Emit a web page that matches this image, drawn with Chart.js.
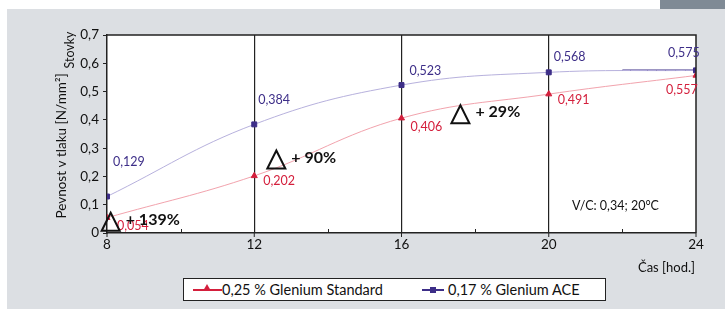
<!DOCTYPE html>
<html>
<head>
<meta charset="utf-8">
<script src="https://cdn.jsdelivr.net/npm/chart.js@4.4.1/dist/chart.umd.min.js"></script>
<style>
    html, body { margin: 0; padding: 0; background: #ffffff; }
    body { width: 725px; height: 309px; position: relative; overflow: hidden; font-family: Lato, sans-serif; }
    #panel { position: absolute; left: 7px; top: 9px; width: 718px; height: 300px; background: #dcdfe3; }
    #corner { position: absolute; left: 660px; top: 0; width: 65px; height: 9px; background: #7f8a95; }
    #wrap { position: absolute; left: 0; top: 0; width: 725px; height: 309px; }
    #legend { position: absolute; left: 183px; top: 278px; width: 421px; height: 21px; background: #fff; border: 1px solid #222; font-size: 14.5px; color: #111; }
    .item { position: absolute; top: 0; line-height: 21px; white-space: nowrap; }
    .sym { position: absolute; top: 10px; width: 29px; height: 1.5px; }
    .mk { position: absolute; }
</style>
</head>
<body>
<div id="panel"></div>
<div id="corner"></div>
<div id="wrap"><canvas id="chart"></canvas></div>
<div id="legend">
    <div class="item" style="left:9px;">
        <div class="sym" style="background:#d41f3c;"></div>
        <div class="mk" style="left:10px;top:5px;width:0;height:0;border-left:4px solid transparent;border-right:4px solid transparent;border-bottom:7px solid #d41f3c;"></div>
        <span style="margin-left:29px;">0,25 % Glenium Standard</span>
    </div>
    <div class="item" style="left:238px;">
        <div class="sym" style="background:#3d2e88;width:22px;"></div>
        <div class="mk" style="left:8px;top:8px;width:6px;height:6px;background:#3d2e88;"></div>
        <span style="margin-left:26px;">0,17 % Glenium ACE</span>
    </div>
</div>
<script>
// ---- data ----
const hours = [8, 12, 16, 20, 24];
const standardValues = [0.054, 0.202, 0.406, 0.491, 0.557];
const aceValues = [0.129, 0.384, 0.523, 0.568, 0.575];
const aceTailHours = [22, 24];
const aceTailValues = [0.575, 0.575];
const yTicks = [0, 0.1, 0.2, 0.3, 0.4, 0.5, 0.6, 0.7];
const xTicks = [8, 12, 16, 20, 24];
const gainLabels = ['+ 139%', '+ 90%', '+ 29%'];

// label offsets (px) relative to each point
const redLabelOffsets = [[10, 8], [9, 5], [9, 9], [9, 6], [-30, 15]];
const blueLabelOffsets = [[6, -35], [4, -24], [8, -14], [5, -15], [-28, -17]];
// gain markers placed in data coordinates
const gainSpots = [[8.1, 0.04], [12.6, 0.26], [17.6, 0.42]];

const RED = '#d41f3c';
const BLUE = '#3d2e88';
const FONT = 'Lato, sans-serif';

const toPts = (xs, ys) => xs.map((x, i) => ({ x, y: ys[i] }));

const extras = {
    id: 'extras',
    beforeDraw(chart) {
        const { ctx, chartArea: a } = chart;
        ctx.save();
        ctx.fillStyle = '#ffffff';
        ctx.fillRect(a.left, a.top, a.right - a.left, a.bottom - a.top);
        ctx.restore();
    },
    afterDatasetsDraw(chart) {
        const { ctx, chartArea: a, scales } = chart;
        const xs = scales.x, ys = scales.y;
        ctx.save();
        // frame top + right
        ctx.strokeStyle = '#222';
        ctx.lineWidth = 1.5;
        ctx.beginPath();
        ctx.moveTo(a.left, a.top);
        ctx.lineTo(a.right, a.top);
        ctx.lineTo(a.right, a.bottom);
        ctx.stroke();
        // minor ticks inside, major ticks just below the axis
        ctx.lineWidth = 1;
        [10, 14, 18, 22].forEach(h => {
            const px = Math.round(xs.getPixelForValue(h)) + 0.5;
            ctx.beginPath();
            ctx.moveTo(px, a.bottom);
            ctx.lineTo(px, a.bottom - 4);
            ctx.stroke();
        });
        xTicks.forEach(h => {
            const px = xs.getPixelForValue(h);
            ctx.beginPath();
            ctx.moveTo(px, a.bottom);
            ctx.lineTo(px, a.bottom + 4);
            ctx.stroke();
        });

        // value labels
        ctx.font = '12.5px ' + FONT;
        ctx.textBaseline = 'middle';
        ctx.textAlign = 'left';
        const fmt = v => v.toFixed(3).replace('.', ',');
        const redMeta = chart.getDatasetMeta(0);
        const blueMeta = chart.getDatasetMeta(1);
        ctx.fillStyle = RED;
        redMeta.data.forEach((p, i) => {
            ctx.fillText(fmt(standardValues[i]), p.x + redLabelOffsets[i][0], p.y + redLabelOffsets[i][1]);
        });
        ctx.fillStyle = BLUE;
        blueMeta.data.forEach((p, i) => {
            ctx.fillText(fmt(aceValues[i]), p.x + blueLabelOffsets[i][0], p.y + blueLabelOffsets[i][1]);
        });

        // gain markers
        ctx.fillStyle = '#111';
        ctx.strokeStyle = '#111';
        ctx.lineWidth = 2;
        ctx.font = 'bold 16px ' + FONT;
        gainSpots.forEach((s, i) => {
            const cx = xs.getPixelForValue(s[0]);
            const cy = ys.getPixelForValue(s[1]);
            ctx.beginPath();
            ctx.moveTo(cx, cy - 9);
            ctx.lineTo(cx + 9, cy + 9);
            ctx.lineTo(cx - 9, cy + 9);
            ctx.closePath();
            ctx.stroke();
            ctx.fillText(gainLabels[i], cx + 15, cy - 2);
        });

        // notes
        ctx.font = '12.5px ' + FONT;
        ctx.fillStyle = '#111';
        ctx.fillText('V/C: 0,34; 20°C', 572, 206);
        ctx.textAlign = 'right';
        ctx.font = '13px ' + FONT;
        ctx.fillText('Čas [hod.]', 695, 268);

        // y titles
        ctx.textAlign = 'center';
        ctx.save();
        ctx.translate(62, 146);
        ctx.rotate(-Math.PI / 2);
        ctx.font = '13.5px ' + FONT;
        ctx.fillText('Pevnost v tlaku [N/mm²]', 0, 0);
        ctx.restore();
        ctx.save();
        ctx.translate(70, 50);
        ctx.rotate(-Math.PI / 2);
        ctx.font = '12.5px ' + FONT;
        ctx.fillText('Stovky', 0, 0);
        ctx.restore();

        ctx.restore();
    }
};

new Chart(document.getElementById('chart'), {
    type: 'line',
    data: {
        datasets: [
            {
                label: '0,25 % Glenium Standard',
                data: toPts(hours, standardValues),
                borderColor: '#f2a3ad',
                borderWidth: 1,
                tension: 0.4,
                pointStyle: 'triangle',
                pointRadius: 3.5,
                pointBackgroundColor: RED,
                pointBorderColor: RED,
                pointBorderWidth: 1
            },
            {
                label: '0,17 % Glenium ACE',
                data: toPts(hours, aceValues),
                borderColor: '#b7b1dd',
                borderWidth: 1,
                tension: 0.4,
                pointStyle: 'rect',
                pointRadius: 3.5,
                pointBackgroundColor: BLUE,
                pointBorderColor: BLUE,
                pointBorderWidth: 1
            },
            {
                label: 'tail',
                data: toPts(aceTailHours, aceTailValues),
                borderColor: BLUE,
                borderWidth: 1.5,
                pointRadius: 0
            }
        ]
    },
    options: {
        responsive: true,
        maintainAspectRatio: false,
        animation: false,
        layout: { padding: { top: 35, right: 29, left: 0, bottom: 0 } },
        plugins: {
            legend: { display: false },
            tooltip: { enabled: false }
        },
        scales: {
            x: {
                type: 'linear',
                min: 8,
                max: 24,
                afterFit: s => { s.height = 76; },
                afterBuildTicks: s => { s.ticks = xTicks.map(v => ({ value: v })); },
                ticks: {
                    color: '#111',
                    font: { family: FONT, size: 13.5 },
                    padding: 4,
                    maxRotation: 0
                },
                grid: {
                    color: c => [12, 16, 20].includes(c.tick && c.tick.value) ? '#222' : 'rgba(0,0,0,0)',
                    lineWidth: 1.2,
                    drawTicks: false
                },
                border: { display: true, color: '#222', width: 1.5 }
            },
            y: {
                min: 0,
                max: 0.7,
                afterFit: s => { s.width = 107; },
                afterBuildTicks: s => { s.ticks = yTicks.map(v => ({ value: v })); },
                ticks: {
                    color: '#111',
                    font: { family: FONT, size: 13.5 },
                    padding: 4,
                    callback: v => v === 0 ? '0' : v.toFixed(1).replace('.', ',')
                },
                grid: {
                    drawOnChartArea: false,
                    drawTicks: true,
                    tickLength: 4,
                    color: '#222'
                },
                border: { display: true, color: '#222', width: 1.5 }
            }
        }
    },
    plugins: [extras]
});
</script>
</body>
</html>
